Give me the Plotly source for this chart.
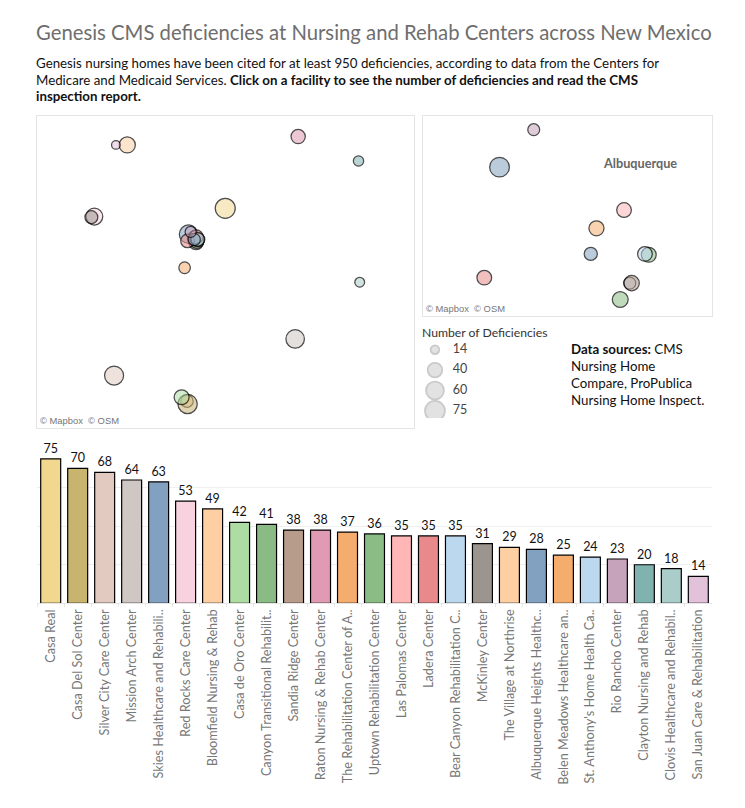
import plotly.graph_objects as go

# Data, in bar order
facility = ["Casa Real", "Casa Del Sol Center", "Silver City Care Center", "Mission Arch Center",
            "Skies Healthcare and Rehabili..", "Red Rocks Care Center", "Bloomfield Nursing & Rehab",
            "Casa de Oro Center", "Canyon Transitional Rehabilit..", "Sandia Ridge Center",
            "Raton Nursing & Rehab Center", "The Rehabilitation Center of A..", "Uptown Rehabilitation Center",
            "Las Palomas Center", "Ladera Center", "Bear Canyon Rehabilitation C..", "McKinley Center",
            "The Village at Northrise", "Albuquerque Heights Healthc..", "Belen Meadows Healthcare an..",
            "St. Anthony's Home Health Ca..", "Rio Rancho Center", "Clayton Nursing and Rehab",
            "Clovis Healthcare and Rehabil..", "San Juan Care & Rehabilitation"]
deficiencies = [75, 70, 68, 64, 63, 53, 49, 42, 41, 38, 38, 37, 36, 35, 35, 35, 31, 29, 28, 25, 24, 23, 20, 18, 14]
colors = ["#F2D88F", "#C8B36F", "#E2CAC0", "#CFC7C4", "#82A1C0", "#F9D2E0", "#FDCFA3", "#AEDDA3", "#8BBB84",
          "#B79C8C", "#E09AB4", "#F5AD6E", "#8CBC85", "#FFB6B7", "#E88A8B", "#BCD8EE", "#9C948F", "#FDCFA3",
          "#82A1C0", "#F5AD6E", "#BCD8EE", "#C6A2BB", "#80B3AF", "#AACDC9", "#E2C2DA"]
lon = [-106.05, -106.68, -107.91, -104.88, -106.665, -108.24, -107.69, -106.78, -106.538, -106.526,
       -104.83, -106.563, -106.508, -106.534, -106.681, -106.512, -108.29, -106.69, -106.569, -106.73,
       -106.528, -106.629, -103.82, -103.80, -107.88]
lat = [35.54, 32.02, 32.53, 33.19, 35.074, 35.39, 36.68, 32.14, 34.929, 34.947,
       36.83, 35.007, 34.978, 35.027, 34.953, 34.979, 35.38, 32.07, 34.979, 34.47,
       34.947, 35.115, 36.39, 34.21, 36.68]
drawn_first = ["The Village at Northrise", "St. Anthony's Home Health Ca.."]
legend_values = [14, 40, 60, 75]

title = "Genesis CMS deficiencies at Nursing and Rehab Centers across New Mexico"
intro = ["Genesis nursing homes have been cited for at least 950 deficiencies, according to data from the Centers for",
         "Medicare and Medicaid Services. <b>Click on a facility to see the number of deficiencies and read the CMS</b>",
         "<b>inspection report.</b>"]
sources = ["<b>Data sources:</b> CMS", "Nursing Home", "Compare, ProPublica", "Nursing Home Inspect."]

W, H, PAGE = 729, 792, 8
FONT = "Lato"

def px(x):
    return (x - PAGE) / W

def py(y):
    return 1 - (y - PAGE) / H

def fade(c, a=0.78):
    return f"rgba({int(c[1:3], 16)},{int(c[3:5], 16)},{int(c[5:7], 16)},{a})"

order = [i for i, n in enumerate(facility) if n in drawn_first] + \
        [i for i, n in enumerate(facility) if n not in drawn_first]

fig = go.Figure()

def map_trace(ax, ay, sizeref):
    fig.add_trace(go.Scatter(
        x=[lon[i] for i in order], y=[lat[i] for i in order], xaxis=ax, yaxis=ay, mode="markers",
        text=[facility[i] for i in order], hoverinfo="text",
        marker=dict(size=[deficiencies[i] for i in order], sizemode="area", sizeref=sizeref,
                    color=[fade(colors[i]) for i in order], line=dict(color="#000000", width=1.25)),
    ))

map_trace("x", "y", 0.375)
map_trace("x2", "y2", 0.325)

# Size legend
fig.add_trace(go.Scatter(
    x=[0.27] * 4, y=[str(v) for v in legend_values], xaxis="x3", yaxis="y3", mode="markers", hoverinfo="skip",
    marker=dict(size=legend_values, sizemode="area", sizeref=0.375, color="#D6D6D6",
                line=dict(color="#B5B5B5", width=1.8)),
))
fig.add_trace(go.Scatter(
    x=[0.64] * 4, y=[str(v) for v in legend_values], xaxis="x3", yaxis="y3", mode="text", hoverinfo="skip",
    text=[str(v) for v in legend_values], textposition="middle right",
    textfont=dict(family=FONT, size=12.5, color="#444444"),
))

# Bars
fig.add_trace(go.Bar(
    x=facility, y=deficiencies, xaxis="x4", yaxis="y4", width=0.74,
    marker=dict(color=colors, line=dict(color="#000000", width=1.2)),
    text=deficiencies, textposition="outside", cliponaxis=False, constraintext="none",
    textfont=dict(family=FONT, size=12.5, color="#111111"), hoverinfo="x+y",
))

panel = dict(showgrid=False, zeroline=False, showticklabels=False, ticks="",
             showline=True, mirror=True, linecolor="#E4E4E4", linewidth=1)
plain = dict(showgrid=False, zeroline=False, showticklabels=False, ticks="", showline=False)

annotations = []

def note(x, y, text, size, color="#111111", family=FONT):
    annotations.append(dict(x=px(x - 2), y=py(y), xref="paper", yref="paper", text=text, showarrow=False,
                            xanchor="left", yanchor="middle", align="left",
                            font=dict(family=family, size=size, color=color)))

note(36, 32, title, 20.3, "#6E6E6E")
for y, line in zip([63, 79.5, 96.5], intro):
    note(36, y, line, 13.3)
note(422, 332, "Number of Deficiencies", 12.2, "#333333")
for y, line in zip([349, 366, 383, 400], sources):
    note(571, y, line, 13.3)
note(603, 163, "<b>Albuquerque</b>", 12.7, "#666666")
note(40, 420.5, "© Mapbox  © OSM", 9.4, "#777777", "Liberation Sans")
note(426, 308, "© Mapbox  © OSM", 9.4, "#777777", "Liberation Sans")

fig.update_layout(
    width=W, height=H, margin=dict(l=0, r=0, t=0, b=0), autosize=False,
    paper_bgcolor="white", plot_bgcolor="white", showlegend=False, annotations=annotations,
    font=dict(family=FONT),
    xaxis=dict(panel, domain=[px(37), px(413.5)], range=[-109.2, -102.9], anchor="y"),
    yaxis=dict(panel, domain=[py(427.5), py(116)], range=[31.596, 37.2], anchor="x"),
    xaxis2=dict(panel, domain=[px(422.5), px(711.5)], range=[-106.746, -106.442], anchor="y2"),
    yaxis2=dict(panel, domain=[py(316), py(116)], range=[34.911, 35.13], anchor="x2"),
    xaxis3=dict(plain, domain=[px(422), px(470)], range=[0, 1], anchor="y3"),
    yaxis3=dict(plain, domain=[py(418), py(339.5)], range=[3.35, -0.5], type="category", anchor="x3"),
    xaxis4=dict(domain=[px(37.2), px(711.8)], anchor="y4", type="category", tickangle=-90,
                tickfont=dict(family=FONT, size=12.7, color="#777777"), ticks="outside", ticklen=3, tickwidth=1,
                tickcolor="#E6E6E6", tickson="boundaries", showgrid=False, showline=True, linecolor="#E6E6E6",
                linewidth=1, range=[-0.5, 24.5]),
    yaxis4=dict(domain=[py(603.3), py(449)], range=[0, 80.1], anchor="x4", tickvals=[0, 20, 40, 60, 80],
                showticklabels=False, showgrid=True, gridcolor="#EFEFEF", gridwidth=1, zeroline=False, ticks=""),
    bargap=0.26,
)

fig.write_html("out.html")
